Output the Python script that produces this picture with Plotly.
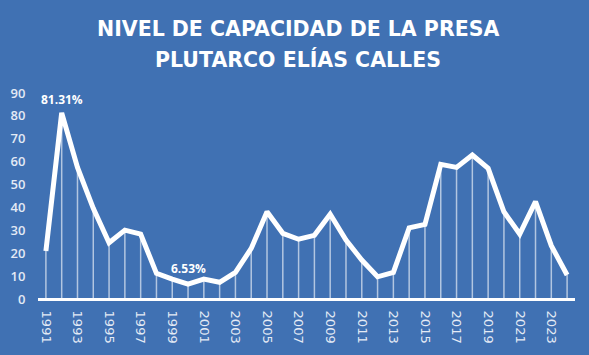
import plotly.graph_objects as go

years = list(range(1991, 2025))
nivel = [21.0, 81.31, 57.5, 39.6, 24.6, 30.1, 28.4, 11.2, 8.7, 6.53,
         8.7, 7.3, 11.6, 22.1, 38.1, 28.7, 26.1, 27.8, 37.0, 25.8,
         17.0, 9.7, 11.6, 31.1, 32.6, 58.8, 57.5, 62.9, 57.1, 38.1,
         28.4, 42.5, 23.3, 10.5]
tick_years = list(range(1991, 2025, 2))
y_ticks = list(range(0, 100, 10))
title_lines = ["NIVEL DE CAPACIDAD DE LA PRESA", "PLUTARCO ELÍAS CALLES"]
labels = {1992: "81.31%", 2000: "6.53%"}

BG = "#4071B3"
W, H = 589, 355
ML, MR, MT, MB = 38, 14, 93, 56
PH = H - MT - MB

# drop lines from each point to the baseline
dx, dy = [], []
for x, y in zip(years, nivel):
    dx += [x, x, None]
    dy += [0, y, None]

fig = go.Figure()
fig.add_trace(go.Scatter(x=dx, y=dy, mode="lines",
                         line=dict(color="rgba(255,255,255,0.6)", width=1.5),
                         hoverinfo="skip", showlegend=False))
fig.add_trace(go.Scatter(x=years, y=nivel, mode="lines",
                         line=dict(color="white", width=5),
                         showlegend=False))

for yr, txt in labels.items():
    v = nivel[years.index(yr)]
    fig.add_annotation(x=yr, y=v, text=f"<b>{txt}</b>", showarrow=False,
                       yshift=16 if yr == 2000 else 13,
                       font=dict(family="Open Sans", size=12, color="white"))

for line, py in zip(title_lines, [29, 59]):
    fig.add_annotation(xref="paper", yref="paper", x=0.5, y=(H - MB - py) / PH,
                       xanchor="center", yanchor="middle", showarrow=False,
                       xshift=-(ML - MR) / 2 + 3,
                       text=f"<b>{line}</b>",
                       font=dict(family="DejaVu Sans", size=20.5, color="white"))

fig.update_layout(
    width=W, height=H,
    paper_bgcolor=BG, plot_bgcolor=BG,
    margin=dict(l=ML, r=MR, t=MT, b=MB),
    xaxis=dict(range=[1990.5, 2024.5], tickmode="array", tickvals=tick_years,
               ticktext=[str(t) for t in tick_years], tickangle=90, automargin=False,
               showgrid=False, zeroline=False, showline=False,
               ticks="outside", ticklen=8, tickcolor="rgba(0,0,0,0)",
               tickfont=dict(family="DejaVu Sans", size=13, color="#E3EAF5")),
    yaxis=dict(range=[0, 90], tickmode="array", tickvals=y_ticks, automargin=False,
               showgrid=False, zeroline=True, zerolinecolor="white", zerolinewidth=3,
               showline=False, ticks="outside", ticklen=9, tickcolor="rgba(0,0,0,0)",
               tickfont=dict(family="Open Sans", size=13, color="#E3EAF5", weight=600)),
)

fig.write_html("out.html", config={"displayModeBar": False},
               post_script="document.body.style.margin='0';")
